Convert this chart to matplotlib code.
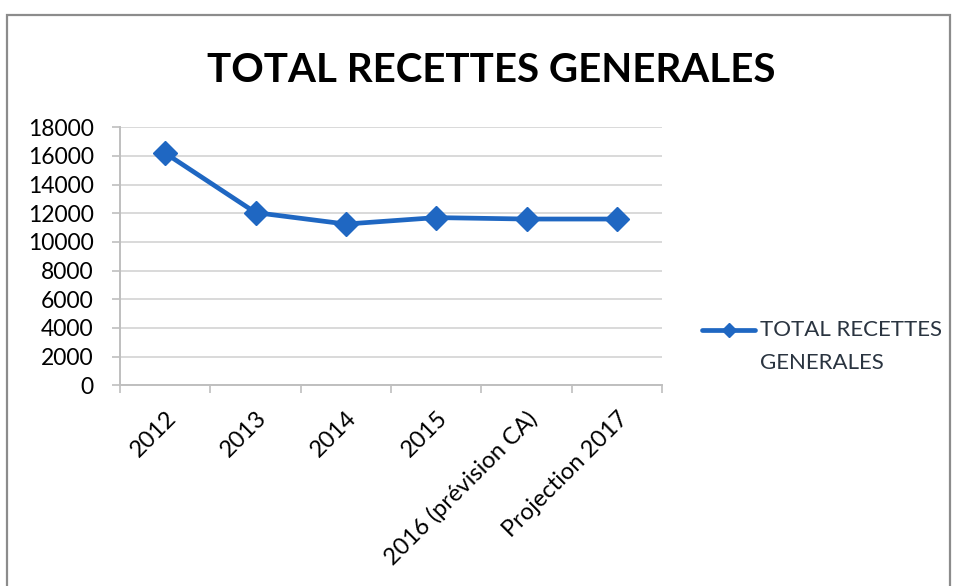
import matplotlib
matplotlib.use("Agg")
import matplotlib.pyplot as plt
from matplotlib.patches import Rectangle
from matplotlib.lines import Line2D
from matplotlib.ticker import FixedLocator

categories = ["2012", "2013", "2014", "2015", "2016 (prévision CA)", "Projection 2017"]
values = [16200, 12050, 11250, 11700, 11600, 11600]
title = "TOTAL RECETTES GENERALES"
legend_lines = ["TOTAL RECETTES", "GENERALES"]
yticks = list(range(0, 18001, 2000))

plt.rcParams["font.family"] = ["Lato", "DejaVu Sans"]

W, H = 957, 586
BLUE = "#1f67c2"
fig = plt.figure(figsize=(W / 100, H / 100), dpi=100)
fig.patch.set_facecolor("white")

# chart frame
fig.add_artist(Rectangle((7 / W, -0.02), (950 - 7) / W, 1 - 15 / H + 0.02,
                         transform=fig.transFigure, fill=False,
                         edgecolor="#8c8c8c", linewidth=1.6))

ax = fig.add_axes([120 / W, 1 - 385.3 / H, (662 - 120) / W, (385.3 - 127.3) / H])
x = list(range(len(categories)))
ax.plot(x, values, color=BLUE, linewidth=3.4, marker="D",
        markersize=12, markeredgecolor=BLUE, zorder=3)

ax.set_xlim(-0.5, len(categories) - 0.5)
ax.set_ylim(0, 18000)
ax.set_yticks(yticks)
ax.set_yticklabels([str(v) for v in yticks], fontsize=16.5, color="black")
ax.yaxis.grid(True, color="#d9d9d9", linewidth=1.4)
ax.set_axisbelow(True)

ax.set_xticks(x)
ax.set_xticklabels(categories, rotation=45, ha="right", va="top",
                   rotation_mode="anchor", fontsize=17, color="black")
ax.xaxis.set_minor_locator(FixedLocator([i - 0.5 for i in range(len(categories) + 1)]))
ax.tick_params(axis="x", which="major", length=0, pad=16)
ax.tick_params(axis="x", which="minor", length=6, color="#bfbfbf", width=1.2)
ax.tick_params(axis="y", length=6, color="#bfbfbf", width=1.2, pad=13)

for side in ("top", "right"):
    ax.spines[side].set_visible(False)
for side in ("left", "bottom"):
    ax.spines[side].set_color("#bfbfbf")
    ax.spines[side].set_linewidth(1.4)

fig.text(491 / W, 1 - 70 / H, title, ha="center", va="center",
         fontsize=29, fontweight="bold", color="black")

# legend: line sample with a diamond, and a two-line label
ly = 1 - 330 / H
fig.add_artist(Line2D([702 / W, 728.5 / W, 755 / W], [ly, ly, ly],
                      transform=fig.transFigure, color=BLUE, linewidth=3.4,
                      marker="D", markersize=7, markevery=[1],
                      markeredgecolor=BLUE, solid_capstyle="round"))
fig.text(760 / W, ly, legend_lines[0], ha="left", va="center",
         fontsize=16, color="#2a3440")
fig.text(760 / W, 1 - 363 / H, legend_lines[1], ha="left", va="center",
         fontsize=16, color="#2a3440")

fig.savefig("out.png", dpi=100)
